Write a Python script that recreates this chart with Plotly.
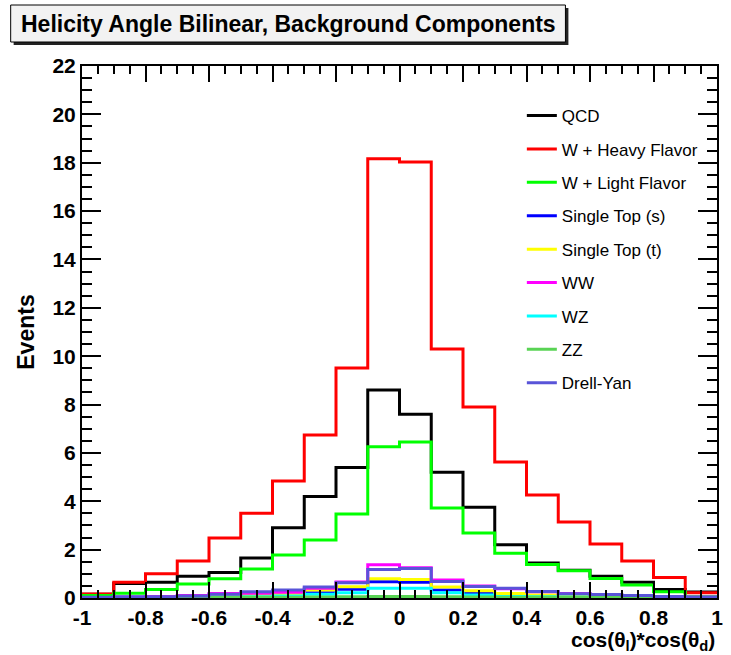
import plotly.graph_objects as go

# Bin edges of cos(theta_l)*cos(theta_d): 20 bins from -1 to 1
edges = [round(-1 + 0.1 * i, 2) for i in range(21)]

qcd = [0.15, 0.6, 0.65, 0.9, 1.05, 1.65, 2.9, 4.2, 5.4, 8.6,
       7.6, 5.2, 3.75, 2.2, 1.45, 1.15, 0.9, 0.65, 0.35, 0.25]
w_heavy = [0.17, 0.65, 1.0, 1.53, 2.48, 3.5, 4.84, 6.74, 9.51, 18.16,
           18.03, 10.3, 7.9, 5.62, 4.26, 3.14, 2.23, 1.53, 0.85, 0.22]
w_light = [0.1, 0.2, 0.35, 0.58, 0.8, 1.2, 1.78, 2.4, 3.47, 6.25,
           6.45, 3.72, 2.69, 1.85, 1.39, 1.13, 0.81, 0.54, 0.26, 0.05]
single_top_s = [0.01, 0.02, 0.03, 0.04, 0.05, 0.08, 0.12, 0.22, 0.36, 0.67,
                0.65, 0.33, 0.2, 0.12, 0.08, 0.06, 0.04, 0.03, 0.02, 0.01]
single_top_t = [0.01, 0.02, 0.03, 0.04, 0.05, 0.1, 0.15, 0.33, 0.47, 0.8,
                0.76, 0.45, 0.3, 0.19, 0.12, 0.08, 0.05, 0.04, 0.03, 0.02]
ww = [0.02, 0.04, 0.06, 0.1, 0.19, 0.2, 0.24, 0.4, 0.66, 1.38,
      1.25, 0.74, 0.5, 0.38, 0.26, 0.19, 0.12, 0.1, 0.05, 0.03]
wz = [0.01, 0.02, 0.02, 0.03, 0.04, 0.05, 0.08, 0.15, 0.22, 0.4,
      0.4, 0.22, 0.12, 0.06, 0.05, 0.04, 0.03, 0.02, 0.01, 0.01]
zz = [0.01, 0.01, 0.02, 0.02, 0.02, 0.03, 0.03, 0.04, 0.05, 0.06,
      0.06, 0.05, 0.04, 0.03, 0.03, 0.02, 0.02, 0.02, 0.01, 0.01]
drell_yan = [0.03, 0.05, 0.05, 0.08, 0.16, 0.26, 0.33, 0.46, 0.63, 1.18,
             1.22, 0.68, 0.48, 0.4, 0.27, 0.18, 0.14, 0.1, 0.06, 0.04]

series = [
    ("QCD", qcd, "#000000"),
    ("W + Heavy Flavor", w_heavy, "#ff0000"),
    ("W + Light Flavor", w_light, "#00ff00"),
    ("Single Top (s)", single_top_s, "#0000ff"),
    ("Single Top (t)", single_top_t, "#ffff00"),
    ("WW", ww, "#ff00ff"),
    ("WZ", wz, "#00ffff"),
    ("ZZ", zz, "#59d354"),
    ("Drell-Yan", drell_yan, "#5954d8"),
]

FONT = "Liberation Sans, Arial, Helvetica, sans-serif"
W, H = 731, 655
L, R, T, B = 82, 8, 66, 57
PW, PH = W - L - R, H - T - B


def px_x(p):
    return (p - L) / PW


def px_y(p):
    return (H - B - p) / PH


fig = go.Figure()
for i, (name, vals, color) in enumerate(series):
    fig.add_trace(go.Scatter(
        x=edges, y=vals + [vals[-1]], mode="lines", name=name,
        line=dict(color=color, width=3, shape="hv"),
        legendgroup=f"g{i}",
    ))

axis_common = dict(
    showline=True, linecolor="black", linewidth=2, mirror="ticks",
    ticks="inside", tickcolor="black", tickwidth=2,
    showgrid=False, zeroline=False,
    tickfont=dict(family=FONT, size=21, color="black", weight="bold"),
)

fig.update_xaxes(
    range=[-1, 1], tickvals=[-1, -0.8, -0.6, -0.4, -0.2, 0, 0.2, 0.4, 0.6, 0.8, 1],
    ticktext=["-1", "-0.8", "-0.6", "-0.4", "-0.2", "0", "0.2", "0.4", "0.6", "0.8", "1"],
    ticklen=16,
    minor=dict(ticks="inside", ticklen=8, dtick=0.05, tickcolor="black", tickwidth=2),
    **axis_common,
)
fig.update_yaxes(
    range=[0, 22], dtick=2, ticklen=19,
    minor=dict(ticks="inside", ticklen=10, dtick=0.5, tickcolor="black", tickwidth=2),
    title=dict(text="Events", font=dict(family=FONT, size=23, color="black", weight="bold"),
               standoff=11),
    **axis_common,
)

# Title box with drop shadow
fig.add_shape(type="rect", xref="paper", yref="paper",
              x0=px_x(13), x1=px_x(573), y0=px_y(45), y1=px_y(8),
              fillcolor="#222222", line=dict(width=0), layer="above")
fig.add_shape(type="rect", xref="paper", yref="paper",
              x0=px_x(10), x1=px_x(570), y0=px_y(42), y1=px_y(5),
              fillcolor="#f2f2f2", line=dict(color="black", width=1), layer="above")
fig.add_annotation(
    xref="paper", yref="paper", x=px_x(290), y=px_y(23.5),
    text="Helicity Angle Bilinear, Background Components", showarrow=False,
    font=dict(family=FONT, size=23, color="black", weight="bold"),
    xanchor="center", yanchor="middle",
)

# x-axis title, right aligned at the end of the axis
fig.add_annotation(
    xref="paper", yref="paper", x=px_x(723), y=px_y(641),
    text="cos(θ<sub>l</sub>)*cos(θ<sub>d</sub>)", showarrow=False,
    font=dict(family=FONT, size=21, color="black", weight="bold"),
    xanchor="right", yanchor="middle",
)

fig.update_layout(
    width=W, height=H,
    margin=dict(l=L, r=R, t=T, b=B),
    paper_bgcolor="white", plot_bgcolor="white",
    showlegend=True,
    legend=dict(
        x=px_x(526), y=px_y(98), xanchor="left", yanchor="top",
        font=dict(family=FONT, size=17, color="black"),
        bgcolor="rgba(0,0,0,0)", tracegroupgap=8.3,
    ),
)

fig.write_html("out.html")
